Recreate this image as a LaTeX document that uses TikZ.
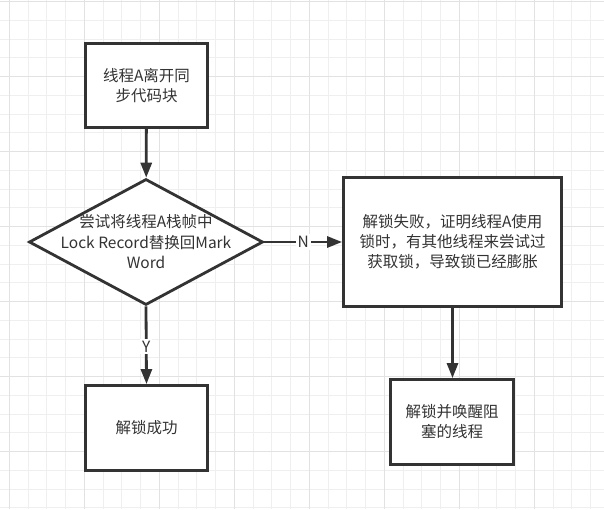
\documentclass[tikz,border=0pt]{standalone}
\usepackage{fontspec}
\setmainfont{Noto Sans CJK SC}
\usetikzlibrary{shapes.geometric,arrows.meta}

\definecolor{inkgray}{HTML}{333333}
\definecolor{gridminor}{HTML}{EFEFEF}
\definecolor{gridmajor}{HTML}{E2E2E2}

\begin{document}
\begin{tikzpicture}[x=1pt,y=-1pt,
	flowbox/.style={draw=inkgray,line width=2.8pt,fill=white,align=center,
		text=inkgray,font=\fontsize{15.5}{20}\selectfont,inner sep=0pt},
	decision/.style={draw=inkgray,line width=2.8pt,fill=white,diamond,inner sep=0pt},
	flowtext/.style={align=center,text=inkgray,font=\fontsize{15.5}{20.5}\selectfont},
	flowarrow/.style={draw=inkgray,line width=2.8pt,-{Triangle[length=15pt,width=11pt]}},
	edgelabel/.style={fill=white,text=inkgray,inner sep=2pt,font=\fontsize{15.5}{18}\selectfont}]
	\useasboundingbox (0,0) rectangle (604,509);
	\fill[white] (0,0) rectangle (604,509);

	% background grid
	\foreach \i in {0,...,31}
		\draw[gridminor,line width=1pt] ({9.3+18.75*\i},0) -- ++(0,509);
	\foreach \j in {0,...,27}
		\draw[gridminor,line width=1pt] (0,{1.7+18.75*\j}) -- ++(604,0);
	\foreach \i in {0,...,7}
		\draw[gridmajor,line width=1pt] ({9.3+75*\i},0) -- ++(0,509);
	\foreach \j in {0,...,6}
		\draw[gridmajor,line width=1pt] (0,{1.7+75*\j}) -- ++(604,0);

	% nodes
	\node[flowbox,minimum width=122pt,minimum height=84pt] (leave) at (146.5,85.5)
		{线程A离开同\\步代码块};
	\node[decision,minimum width=234pt,minimum height=126pt] (try) at (146,242) {};
	\node[flowtext] (trytext) at (try.center) {尝试将线程A栈帧中\\Lock Record替换回Mark\\Word};
	\node[flowbox,minimum width=218pt,minimum height=129pt] (fail) at (452.5,242)
		{解锁失败，证明线程A使用\\锁时，有其他线程来尝试过\\获取锁，导致锁已经膨胀};
	\node[flowbox,minimum width=122pt,minimum height=85pt] (ok) at (146.5,428)
		{解锁成功};
	\node[flowbox,minimum width=123pt,minimum height=85pt] (wake) at (452,422)
		{解锁并唤醒阻\\塞的线程};

	% connectors
	\draw[flowarrow] (leave) -- (try);
	\draw[flowarrow] (try.east) -- node[edgelabel,pos=0.5] (no) {N} (fail.west);
	\draw[flowarrow] (try.south) -- node[edgelabel,pos=0.52] (yes) {Y} (ok.north);
	\draw[flowarrow] (fail.south) -- (fail.south |- wake.north);
\end{tikzpicture}
\end{document}
